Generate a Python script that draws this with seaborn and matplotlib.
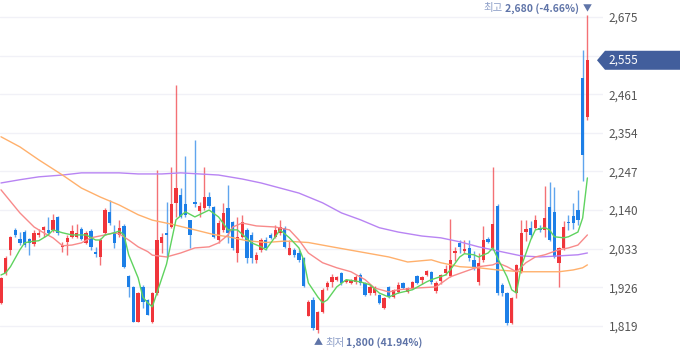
import numpy as np
import pandas as pd
import matplotlib.pyplot as plt
from matplotlib.patches import Polygon
import seaborn as sns

# daily candles, oldest first
opens = [1883, 1966, 2030, 2085, 2060, 2079, 2060, 2046, 2071, 2085,
         2085, 2085, 2121, 2038, 2052, 2066, 2066, 2088, 2049, 2082,
         2024, 2010, 2077, 2135, 2079, 2071, 2096, 1958, 1927, 1830,
         1927, 1891, 1830, 1910, 2049, 2077, 2093, 2160, 2182, 2157,
         2113, 2162, 2138, 2146, 2176, 2149, 2057, 2085, 2146, 2107,
         2021, 2066, 2085, 2071, 2002, 2030, 2057, 2071, 2066, 2077,
         2091, 2016, 2030, 2021, 2007, 1847, 1891, 1808, 1858, 1927,
         1941, 1947, 1966, 1941, 1938, 1941, 1960, 1938, 1910, 1910,
         1905, 1869, 1927, 1899, 1913, 1938, 1913, 1924, 1958, 1947,
         1960, 1969, 1916, 1944, 1966, 1958, 2021, 2049, 2027, 2035,
         2002, 1941, 2002, 2060, 2035, 2152, 1933, 1910, 1828, 1910,
         1969, 2079, 2091, 2091, 2091, 2085, 2149, 2135, 1994, 2035,
         2107, 2124, 2140, 2506, 2398]
highs = [1955, 2013, 2068, 2091, 2079, 2085, 2063, 2085, 2088, 2096,
         2121, 2130, 2124, 2052, 2071, 2099, 2102, 2093, 2082, 2088,
         2038, 2063, 2146, 2168, 2099, 2113, 2102, 1960, 1930, 1913,
         1933, 1894, 1913, 2251, 2077, 2162, 2260, 2487, 2201, 2290,
         2113, 2334, 2162, 2260, 2190, 2152, 2113, 2160, 2210, 2110,
         2121, 2127, 2090, 2079, 2024, 2063, 2066, 2077, 2099, 2113,
         2096, 2057, 2035, 2030, 2010, 1891, 1900, 1860, 1924, 1944,
         1963, 1958, 1969, 1950, 1950, 1960, 1966, 1941, 1935, 1930,
         1908, 1900, 1930, 1922, 1941, 1941, 1927, 1944, 1960, 1958,
         1974, 1972, 1944, 1963, 1988, 2115, 2038, 2057, 2057, 2057,
         2027, 2021, 2096, 2066, 2260, 2157, 1938, 1913, 1900, 1991,
         2113, 2113, 2110, 2127, 2099, 2207, 2218, 2204, 2038, 2110,
         2127, 2160, 2196, 2584, 2680]
lows = [1880, 1960, 2016, 2066, 2043, 2038, 2016, 2041, 2066, 2066,
        2074, 2079, 2071, 2024, 2016, 2063, 2063, 2057, 2046, 2030,
        2010, 1988, 2071, 2099, 2035, 2066, 1980, 1899, 1830, 1830,
        1869, 1850, 1828, 1905, 2021, 2007, 2091, 2121, 2118, 2121,
        2035, 2149, 2121, 2140, 2146, 2063, 2049, 2079, 2049, 2030,
        1996, 2063, 1993, 1993, 1993, 2024, 2030, 2060, 2063, 2071,
        2035, 2016, 2010, 1996, 1927, 1847, 1808, 1800, 1855, 1919,
        1927, 1944, 1933, 1938, 1935, 1935, 1933, 1902, 1905, 1905,
        1880, 1866, 1897, 1897, 1910, 1921, 1910, 1921, 1935, 1935,
        1958, 1935, 1910, 1935, 1960, 1955, 1999, 2021, 2021, 1999,
        1974, 1933, 1996, 2049, 2030, 1905, 1902, 1822, 1825, 1897,
        1966, 2055, 2063, 2088, 2079, 2066, 2055, 2007, 1926, 2030,
        2085, 2088, 2099, 2221, 2390]
closes = [1952, 2007, 2066, 2071, 2049, 2043, 2049, 2077, 2077, 2093,
          2077, 2113, 2077, 2043, 2063, 2082, 2077, 2060, 2077, 2038,
          2019, 2057, 2140, 2104, 2049, 2091, 1982, 1927, 1830, 1910,
          1885, 1850, 1910, 2057, 2066, 2071, 2157, 2201, 2121, 2127,
          2071, 2157, 2151, 2176, 2151, 2066, 2104, 2132, 2077, 2035,
          2066, 2107, 2007, 2007, 2016, 2057, 2035, 2063, 2085, 2093,
          2038, 2035, 2016, 2002, 1930, 1886, 1814, 1858, 1919, 1938,
          1955, 1955, 1938, 1947, 1947, 1955, 1938, 1905, 1927, 1927,
          1883, 1897, 1899, 1919, 1933, 1924, 1924, 1941, 1938, 1955,
          1971, 1941, 1938, 1960, 1977, 2002, 2027, 2038, 2032, 2007,
          1982, 1994, 2057, 2052, 2102, 1910, 1910, 1828, 1897, 1988,
          2077, 2088, 2071, 2113, 2085, 2118, 2057, 2010, 2035, 2093,
          2104, 2104, 2113, 2293, 2555]

# moving averages (candle index, price)
ma5_idx = [0, 1, 2, 4, 5, 6, 8, 10, 11, 13, 15, 18, 20, 21, 22, 24, 25, 26, 27, 29,
           30, 31, 32, 35, 37, 39, 41, 44, 46, 48, 50, 53, 55, 56, 58, 59, 61, 63, 64,
           65, 67, 68, 69, 71, 73, 76, 78, 80, 82, 84, 87, 90, 91, 94, 95, 97, 98, 100,
           101, 103, 104, 105, 107, 108, 109, 110, 112, 113, 115, 116, 117, 119, 120,
           122, 123, 124]
ma5 = [1960, 1966, 1983, 2030, 2049, 2052, 2055, 2071, 2085, 2077, 2071, 2071, 2057,
       2057, 2071, 2077, 2082, 2071, 2016, 1952, 1899, 1883, 1872, 1990, 2113, 2135,
       2121, 2140, 2121, 2085, 2085, 2049, 2038, 2030, 2066, 2085, 2063, 2035, 2002,
       1938, 1899, 1883, 1891, 1927, 1947, 1941, 1933, 1910, 1899, 1910, 1919, 1941,
       1947, 1960, 1974, 2010, 2019, 2016, 2010, 2021, 2035, 2007, 1955, 1919, 1910,
       1983, 2057, 2085, 2091, 2085, 2066, 2063, 2066, 2079, 2118, 2229]

ma20_idx = [0, 4, 7, 9, 11, 13, 15, 17, 19, 22, 24, 25, 27, 29, 31, 32, 35, 38, 41,
            44, 46, 48, 49, 51, 54, 58, 61, 63, 65, 68, 71, 74, 77, 79, 82, 84, 88,
            92, 95, 98, 101, 104, 105, 107, 109, 111, 113, 115, 118, 120, 122, 123, 124]
ma20 = [2196, 2132, 2093, 2077, 2063, 2041, 2043, 2049, 2063, 2071, 2077, 2074, 2057,
        2038, 2025, 2015, 2010, 2021, 2035, 2038, 2049, 2071, 2093, 2104, 2096, 2093,
        2085, 2057, 2021, 1994, 1980, 1969, 1947, 1924, 1913, 1919, 1924, 1927, 1955,
        1969, 1983, 1988, 1994, 1983, 1969, 1994, 2010, 2016, 2030, 2035, 2043, 2057,
        2071]

ma60_idx = [0, 4, 8, 13, 17, 21, 25, 29, 32, 36, 41, 45, 48, 52, 56, 60, 65, 70, 76,
            82, 86, 91, 93, 97, 101, 105, 110, 114, 118, 121, 123, 124]
ma60 = [2343, 2315, 2279, 2237, 2201, 2176, 2154, 2127, 2112, 2101, 2085, 2072, 2066,
        2055, 2050, 2054, 2050, 2038, 2024, 2010, 1996, 2002, 1994, 1983, 1980, 1974,
        1969, 1969, 1969, 1974, 1980, 1988]

ma120_idx = [0, 4, 8, 13, 17, 21, 25, 29, 34, 38, 42, 46, 51, 55, 59, 63, 68, 72, 76,
             80, 84, 89, 93, 97, 101, 106, 110, 114, 118, 122, 124]
ma120 = [2215, 2224, 2232, 2237, 2243, 2243, 2243, 2240, 2240, 2243, 2240, 2237, 2226,
         2215, 2201, 2187, 2160, 2132, 2113, 2091, 2079, 2068, 2063, 2052, 2038, 2024,
         2013, 2010, 2013, 2016, 2021]

price_ticks = [1819, 1926, 2033, 2140, 2247, 2354, 2461, 2568, 2675]

UP = '#f0353b'
DOWN = '#1d7fe7'

sns.set_theme(style="white")
plt.rcParams['font.family'] = ['Noto Sans CJK KR', 'DejaVu Sans']

df = pd.DataFrame({'open': opens, 'high': highs, 'low': lows, 'close': closes})
df['idx'] = np.arange(len(df))
cols = np.where(df['close'] >= df['open'], UP, DOWN)

W, H = 680, 358
fig = plt.figure(figsize=(W / 100, H / 100), dpi=100)
ax = fig.add_axes([0, 0, 603 / W, 1])

# candles
ax.vlines(df['idx'], df['low'], df['high'], colors=cols, lw=1, alpha=0.7, zorder=2)
body_lo = df[['open', 'close']].min(axis=1)
body_h = (df['close'] - df['open']).abs().clip(lower=3)
ax.bar(df['idx'], body_h, bottom=body_lo, width=0.7, color=cols, linewidth=0, zorder=3)

# moving averages
for idx, vals, c in [(ma120_idx, ma120, '#b884f3'), (ma60_idx, ma60, '#ffb06c'),
                     (ma20_idx, ma20, '#f88a8a'), (ma5_idx, ma5, '#5fd35f')]:
    sns.lineplot(x=idx, y=vals, color=c, lw=1.0, ax=ax, zorder=4)

last = closes[-1]

ax.set_xlim(-0.21, 127.3)
ax.set_ylim(1730, 2722)
ax.set_yticks(price_ticks)
# the tick hidden under the current-price tag gets no label
ax.set_yticklabels([f"{t:,}" if abs(t - last) > 40 else "" for t in price_ticks])
ax.yaxis.tick_right()
ax.tick_params(axis='y', length=0, pad=4, labelsize=8.5, labelcolor='#555555')
ax.set_xticks([])
ax.yaxis.grid(True, color='#f1f1f7', lw=1)
ax.set_axisbelow(True)
for s in ax.spines.values():
    s.set_visible(False)
ax.set_xlabel('')
ax.set_ylabel('')

# current price tag
ypix = ax.transData.transform((0, last))[1]
pts = [(597, ypix), (605, ypix + 9.5), (W, ypix + 9.5), (W, ypix - 9.5), (605, ypix - 9.5)]
tag = Polygon([(x / W, y / H) for x, y in pts], closed=True, fc='#425e9c', ec='none',
              transform=fig.transFigure, zorder=5)
fig.patches.append(tag)
fig.text(608 / W, ypix / H, f"{last:,}", color='white', fontsize=8.5, va='center',
         ha='left', zorder=6)

# high / low markers
hi = max(highs)
lo = min(lows)
i_hi = highs.index(hi)
i_lo = lows.index(lo)
lab = '#5f74a8'
tri = ax.annotate('▼', xy=(i_hi, 1 - 8.5 / H), xycoords=('data', 'axes fraction'),
                  ha='center', va='center', fontsize=6.5, color=lab, annotation_clip=False)
t1 = ax.annotate(f"{hi:,} ({(last - hi) / hi * 100:.2f}%)", xy=(0, 0.5), xycoords=tri,
                 xytext=(-3, 0), textcoords='offset points', ha='right', va='center',
                 fontsize=7.5, fontweight='bold', color=lab)
ax.annotate('최고', xy=(0, 0.5), xycoords=t1, xytext=(-1.5, 0), textcoords='offset points',
            ha='right', va='center', fontsize=7.5, color='#8a9cc6')

tri2 = ax.annotate('▲', xy=(i_lo, 1 - 343 / H), xycoords=('data', 'axes fraction'),
                   ha='center', va='center', fontsize=6.5, color=lab, annotation_clip=False)
t2 = ax.annotate('최저', xy=(1, 0.5), xycoords=tri2, xytext=(2, 0), textcoords='offset points',
                 ha='left', va='center', fontsize=7.5, color='#8a9cc6')
ax.annotate(f"{lo:,} ({(last - lo) / lo * 100:.2f}%)", xy=(1, 0.5), xycoords=t2,
            xytext=(1.5, 0), textcoords='offset points', ha='left', va='center',
            fontsize=7.5, fontweight='bold', color=lab)

fig.savefig('out.png', dpi=100)
